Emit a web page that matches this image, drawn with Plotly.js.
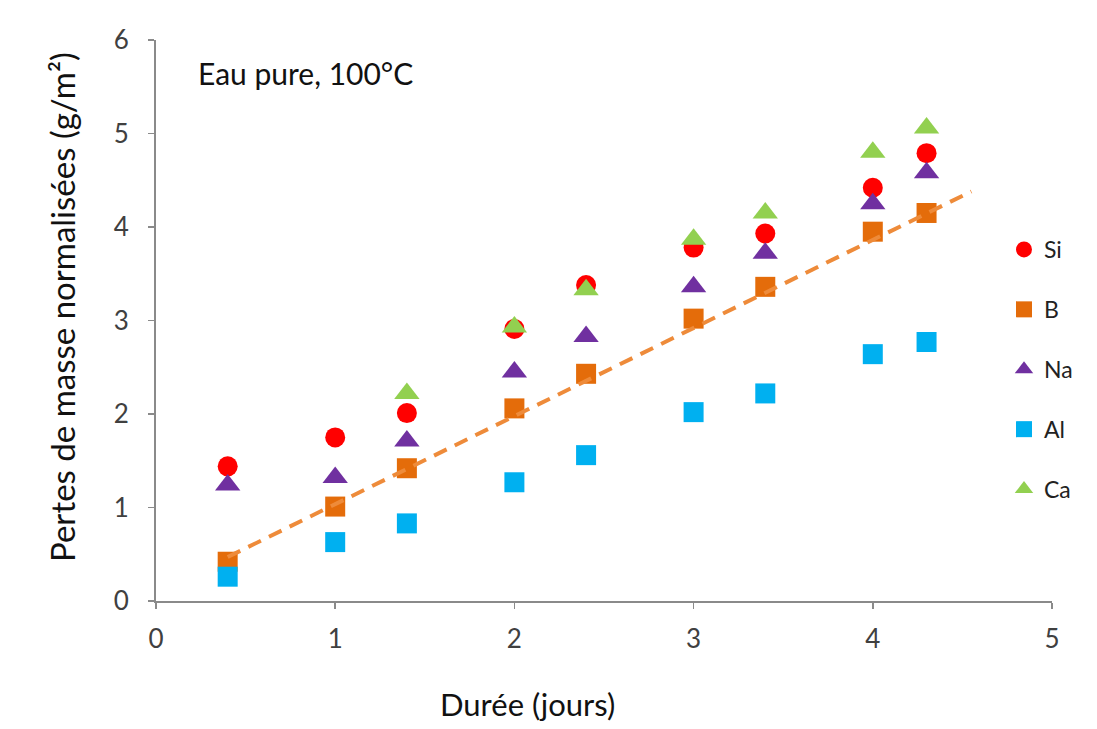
<!DOCTYPE html>
<html><head><meta charset="utf-8">
<script src="https://cdn.plot.ly/plotly-3.0.1.min.js"></script>
<style>html,body{margin:0;padding:0;background:#fff;}#chart{width:1097px;height:729px;}</style>
</head><body><div id="chart"></div>
<script>
const dureeJours = [0.4, 1, 1.4, 2, 2.4, 3, 3.4, 4, 4.3];
const si = [1.44, 1.75, 2.01, 2.91, 3.38, 3.78, 3.93, 4.42, 4.79];
const b  = [0.42, 1.01, 1.42, 2.06, 2.43, 3.02, 3.36, 3.95, 4.15];
const na = [1.24, 1.32, 1.71, 2.45, 2.83, 3.36, 3.72, 4.25, 4.58];
const al = [0.26, 0.63, 0.83, 1.27, 1.56, 2.02, 2.22, 2.64, 2.77];
const ca = [null, null, 2.22, 2.93, 3.33, 3.87, 4.15, 4.80, 5.06];
const trendX = [0.4, 4.55];
const trendY = [0.47, 4.38];
const seriesNames = ['Si', 'B', 'Na', 'Al', 'Ca'];
const xTicks = [0, 1, 2, 3, 4, 5];
const yTicks = [0, 1, 2, 3, 4, 5, 6];

const FONT = 'Lato, "Open Sans", sans-serif';
const series = [si, b, na, al, ca];
const colors = ['#FF0000', '#E46C0A', '#7030A0', '#00B0F0', '#92D050'];
const symbols = ['circle', 'square', 'triangle-up', 'square', 'triangle-up'];
const sizes = [20, 20, 22, 20, 22];

const traces = series.map((ys, i) => ({
  type: 'scatter', mode: 'markers', x: dureeJours, y: ys, name: seriesNames[i],
  legendgroup: 'g' + i,
  marker: {symbol: symbols[i], color: colors[i], size: sizes[i], line: {width: 0}},
  hoverinfo: 'x+y+name'
}));
traces.push({
  type: 'scatter', mode: 'lines', x: trendX, y: trendY, showlegend: false,
  line: {color: '#EE8B3A', width: 4, dash: '14px,9px'}, hoverinfo: 'skip'
});

const layout = {
  width: 1097, height: 729,
  paper_bgcolor: '#fff', plot_bgcolor: '#fff',
  margin: {l: 156, r: 45, t: 40, b: 128, autoexpand: false},
  font: {family: FONT, color: '#222'},
  showlegend: true,
  legend: {x: 1004/1097, xref: 'container', y: 1 - 228/729, yref: 'container', yanchor: 'top', xanchor: 'left',
           traceorder: 'grouped', tracegroupgap: 27, font: {family: FONT, size: 23, color: '#222'},
           bgcolor: 'rgba(0,0,0,0)', itemwidth: 30, itemsizing: 'trace'},
  xaxis: {range: [0, 5], tickvals: xTicks, ticktext: xTicks.map(String), showgrid: false, zeroline: false,
          showline: true, linecolor: '#8a8a8a', linewidth: 2, ticks: 'outside', ticklen: 6, tickcolor: '#8a8a8a', tickwidth: 1.5,
          ticklabelstandoff: 8,
          tickfont: {family: FONT, size: 26, color: '#404040'}, fixedrange: true},
  yaxis: {range: [0, 6], tickvals: yTicks, ticktext: yTicks.map(String), showgrid: false, zeroline: false,
          showline: true, linecolor: '#8a8a8a', linewidth: 2, ticks: 'outside', ticklen: 6, tickcolor: '#8a8a8a', tickwidth: 1.5,
          ticklabelstandoff: 14,
          tickfont: {family: FONT, size: 26, color: '#404040'}, fixedrange: true},
  annotations: [
    {text: 'Eau pure, 100°C', xref: 'paper', yref: 'paper', x: (196-156)/896, y: 1 - (73-40)/561, xanchor: 'left', yanchor: 'middle',
     showarrow: false, font: {family: FONT, size: 30, color: '#111'}},
    {text: 'Durée (jours)', xref: 'paper', yref: 'paper', x: (527-156)/896, y: -(704-601)/561, xanchor: 'center', yanchor: 'middle',
     showarrow: false, font: {family: FONT, size: 31, color: '#111'}},
    {text: 'Pertes de masse normalisées (g/m²)', xref: 'paper', yref: 'paper', x: -(156-62)/896, y: 1 - (307-40)/561, xanchor: 'center', yanchor: 'middle',
     textangle: -90, showarrow: false, font: {family: FONT, size: 33, color: '#111'}}
  ]
};
Plotly.newPlot('chart', traces, layout, {displayModeBar: false, staticPlot: true});
</script></body></html>
